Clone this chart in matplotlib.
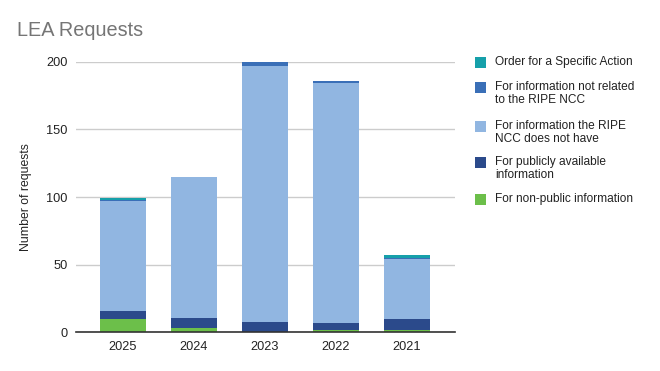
import numpy as np
import matplotlib.pyplot as plt
from matplotlib.patches import Rectangle

plt.rcParams['font.family'] = ['Liberation Sans', 'DejaVu Sans']

years = ['2025', '2024', '2023', '2022', '2021']
non_public = [10, 3, 0, 2, 2]
publicly_available = [6, 8, 8, 5, 8]
not_have = [81, 104, 189, 177, 44]
not_related = [1, 0, 3, 2, 1]
specific_action = [1, 0, 0, 0, 2]

series = [
    ('For non-public information', non_public, '#6cbf4a'),
    ('For publicly available\ninformation', publicly_available, '#2b4a8b'),
    ('For information the RIPE\nNCC does not have', not_have, '#91b6e1'),
    ('For information not related\nto the RIPE NCC', not_related, '#3a6fb7'),
    ('Order for a Specific Action', specific_action, '#16a0aa'),
]

W, H = 660, 371
fig = plt.figure(figsize=(6.6, 3.71), dpi=100)
ax = fig.add_axes([0.115, 0.104, 0.574, 0.730])

x = np.arange(len(years))
bottom = np.zeros(len(years))
for label, vals, color in series:
    ax.bar(x, vals, 0.65, bottom=bottom, color=color, label=label, zorder=3)
    bottom += np.array(vals)

ax.set_xlim(-0.66, 4.67)
ax.set_ylim(0, 200)
ax.set_yticks([0, 50, 100, 150, 200])
ax.set_xticks(x)
ax.set_xticklabels(years)
ax.tick_params(axis='both', length=0, labelsize=9.2, colors='#222222', pad=6)
ax.grid(axis='y', color='#cccccc', linewidth=1, zorder=0)
for s in ['top', 'right', 'left']:
    ax.spines[s].set_visible(False)
ax.spines['bottom'].set_color('#333333')
ax.spines['bottom'].set_linewidth(1.2)
ax.spines['bottom'].set_zorder(4)
ax.set_ylabel('Number of requests', fontsize=8.8, color='#222222', labelpad=10)

fig.text(17 / W, 1 - 31 / H, 'LEA Requests', fontsize=14.3, color='#757575', va='center')

# legend drawn by hand (pixel layout of the reference)
entry_y = [62, 87, 126, 162, 199]
for (label, vals, color), yy in zip(series[::-1], entry_y):
    fig.patches.append(Rectangle((475 / W, 1 - (yy + 5.5) / H), 11 / W, 11 / H,
                                 facecolor=color, edgecolor='none',
                                 transform=fig.transFigure, figure=fig))
    for i, line in enumerate(label.split('\n')):
        fig.text(495 / W, 1 - (yy + 13 * i) / H, line, fontsize=8.6,
                 color='#222222', va='center')

fig.savefig('out.png', dpi=100)
